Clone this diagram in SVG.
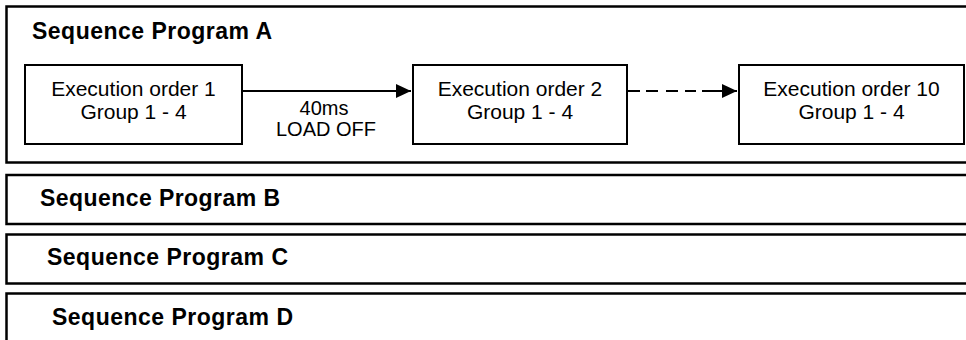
<svg xmlns="http://www.w3.org/2000/svg" width="966" height="340" viewBox="0 0 966 340">
  <style>
    .panel { fill: none; stroke: #000; stroke-width: 2.5; }
    .box { fill: #fff; stroke: #000; stroke-width: 2; }
    .title { font-family: "Liberation Sans", Arial, sans-serif; font-weight: bold; font-size: 23px; fill: #000; }
    .lbl { font-family: "Liberation Sans", Arial, sans-serif; font-size: 21px; fill: #000; text-anchor: middle; }
    .elbl { font-family: "Liberation Sans", Arial, sans-serif; font-size: 20px; fill: #000; text-anchor: middle; }
    .conn { fill: none; stroke: #000; stroke-width: 2; }
  </style>
  <defs>
    <marker id="arrow" markerUnits="userSpaceOnUse" markerWidth="16" markerHeight="16" refX="15" refY="7" orient="auto">
      <path d="M0,0 L15,7 L0,14 Z" fill="#000"/>
    </marker>
  </defs>
  <rect x="0" y="0" width="966" height="340" fill="#fff"/>

  <g id="panel-a">
    <rect class="panel" x="6.5" y="6.5" width="990" height="156"/>
    <text class="title" x="32" y="39" textLength="240">Sequence Program A</text>
  </g>
  <g id="panel-b">
    <rect class="panel" x="6.5" y="175" width="990" height="49"/>
    <text class="title" x="40" y="206" textLength="240">Sequence Program B</text>
  </g>
  <g id="panel-c">
    <rect class="panel" x="6.5" y="234.5" width="990" height="49"/>
    <text class="title" x="47" y="265" textLength="241">Sequence Program C</text>
  </g>
  <g id="panel-d">
    <rect class="panel" x="6.5" y="293.5" width="990" height="80"/>
    <text class="title" x="52" y="325" textLength="241">Sequence Program D</text>
  </g>

  <g id="exec-1">
    <rect class="box" x="25" y="65" width="217" height="79"/>
    <text class="lbl" x="133.5" y="96">Execution order 1</text>
    <text class="lbl" x="133.5" y="119">Group 1 - 4</text>
  </g>
  <g id="exec-2">
    <rect class="box" x="413" y="65" width="214" height="79"/>
    <text class="lbl" x="520" y="96">Execution order 2</text>
    <text class="lbl" x="520" y="119">Group 1 - 4</text>
  </g>
  <g id="exec-10">
    <rect class="box" x="739" y="65" width="225" height="79"/>
    <text class="lbl" x="851.5" y="96">Execution order 10</text>
    <text class="lbl" x="851.5" y="119">Group 1 - 4</text>
  </g>

  <g id="connectors">
    <path class="conn" d="M242,91 L411,91" marker-end="url(#arrow)"/>
    <text class="elbl" x="324" y="115">40ms</text>
    <text class="elbl" x="326" y="136">LOAD OFF</text>
    <path class="conn" d="M627,91 L737,91" stroke-dasharray="13 6 12 8 12 7 11 6 80" marker-end="url(#arrow)"/>
  </g>
</svg>
